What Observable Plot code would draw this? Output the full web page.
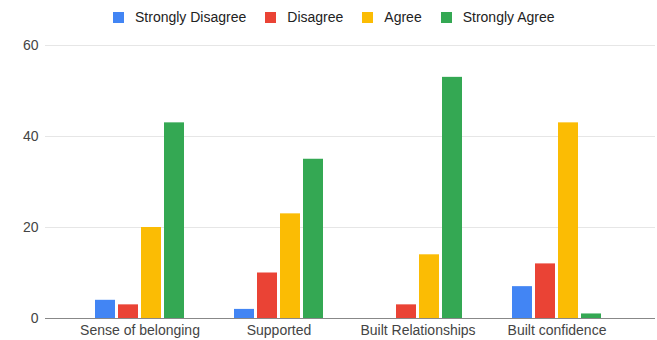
<!DOCTYPE html>
<html>
<head>
<meta charset="utf-8">
<script src="https://cdn.jsdelivr.net/npm/d3@7"></script>
<script src="https://cdn.jsdelivr.net/npm/@observablehq/plot@0.6"></script>
<style>
  body { margin: 0; background: #fff; font-family: Arial, "Liberation Sans", sans-serif; }
  #legend { height: 34px; display: flex; align-items: center; padding-left: 113px; font-size: 14px; color: #222; }
  .item { display: flex; align-items: center; margin-right: 19px; }
  .swatch { width: 11px; height: 11px; margin-right: 11px; }
  #chart { position: relative; width: 657px; height: 306px; }
  #chart svg { position: absolute; left: 0; top: 0; }
</style>
</head>
<body>
<div id="legend"></div>
<div id="chart"></div>
<script>
// Survey responses per statement
const categories = ["Sense of belonging", "Supported", "Built Relationships", "Built confidence"];
const series = ["Strongly Disagree", "Disagree", "Agree", "Strongly Agree"];
const stronglyDisagree = [4, 2, 0, 7];
const disagree = [3, 10, 3, 12];
const agree = [20, 23, 14, 43];
const stronglyAgree = [43, 35, 53, 1];
const colors = ["#4285f4", "#ea4335", "#fbbc04", "#34a853"];
const yTicks = [0, 20, 40, 60];

const valuesBySeries = [stronglyDisagree, disagree, agree, stronglyAgree];
const rows = categories.flatMap((category, i) =>
  series.map((s, j) => ({ category, series: s, value: valuesBySeries[j][i] }))
);

// Legend row
const legend = d3.select("#legend");
series.forEach((s, i) => {
  const item = legend.append("div").attr("class", "item");
  item.append("div").attr("class", "swatch").style("background", colors[i]);
  item.append("span").text(s);
});

const frame = {
  width: 657,
  height: 306,
  marginLeft: 45,
  marginRight: 2,
  marginTop: 11,
  marginBottom: 22,
  style: { fontFamily: "Arial, 'Liberation Sans', sans-serif", fontSize: "14px", color: "#444", background: "transparent" }
};

// Background layer: gridlines and value labels across the full plot width
const grid = Plot.plot({
  ...frame,
  x: { axis: null },
  y: { domain: [0, 60], ticks: yTicks, tickSize: 0, tickPadding: 7, label: null, grid: false },
  marks: [
    Plot.ruleY(yTicks.slice(1), { stroke: "#e6e6e6" })
  ]
});

// Foreground layer: grouped bars, one facet per statement
const bars = Plot.plot({
  ...frame,
  fx: { domain: categories, paddingInner: 0, paddingOuter: 0.1786, align: 0.46, axis: "bottom", tickSize: 0, tickPadding: 7, label: null },
  x: { domain: series, axis: null, paddingInner: 0.13, paddingOuter: 1.05 },
  y: { domain: [0, 60], axis: null },
  color: { domain: series, range: colors },
  marks: [
    Plot.barY(rows, { fx: "category", x: "series", y: "value", fill: "series" })
  ]
});

// Baseline on top of the bars
const base = Plot.plot({
  ...frame,
  x: { axis: null },
  y: { domain: [0, 60], axis: null },
  marks: [Plot.ruleY([0], { stroke: "#888" })]
});

const el = document.getElementById("chart");
el.append(grid, bars, base);
</script>
</body>
</html>
